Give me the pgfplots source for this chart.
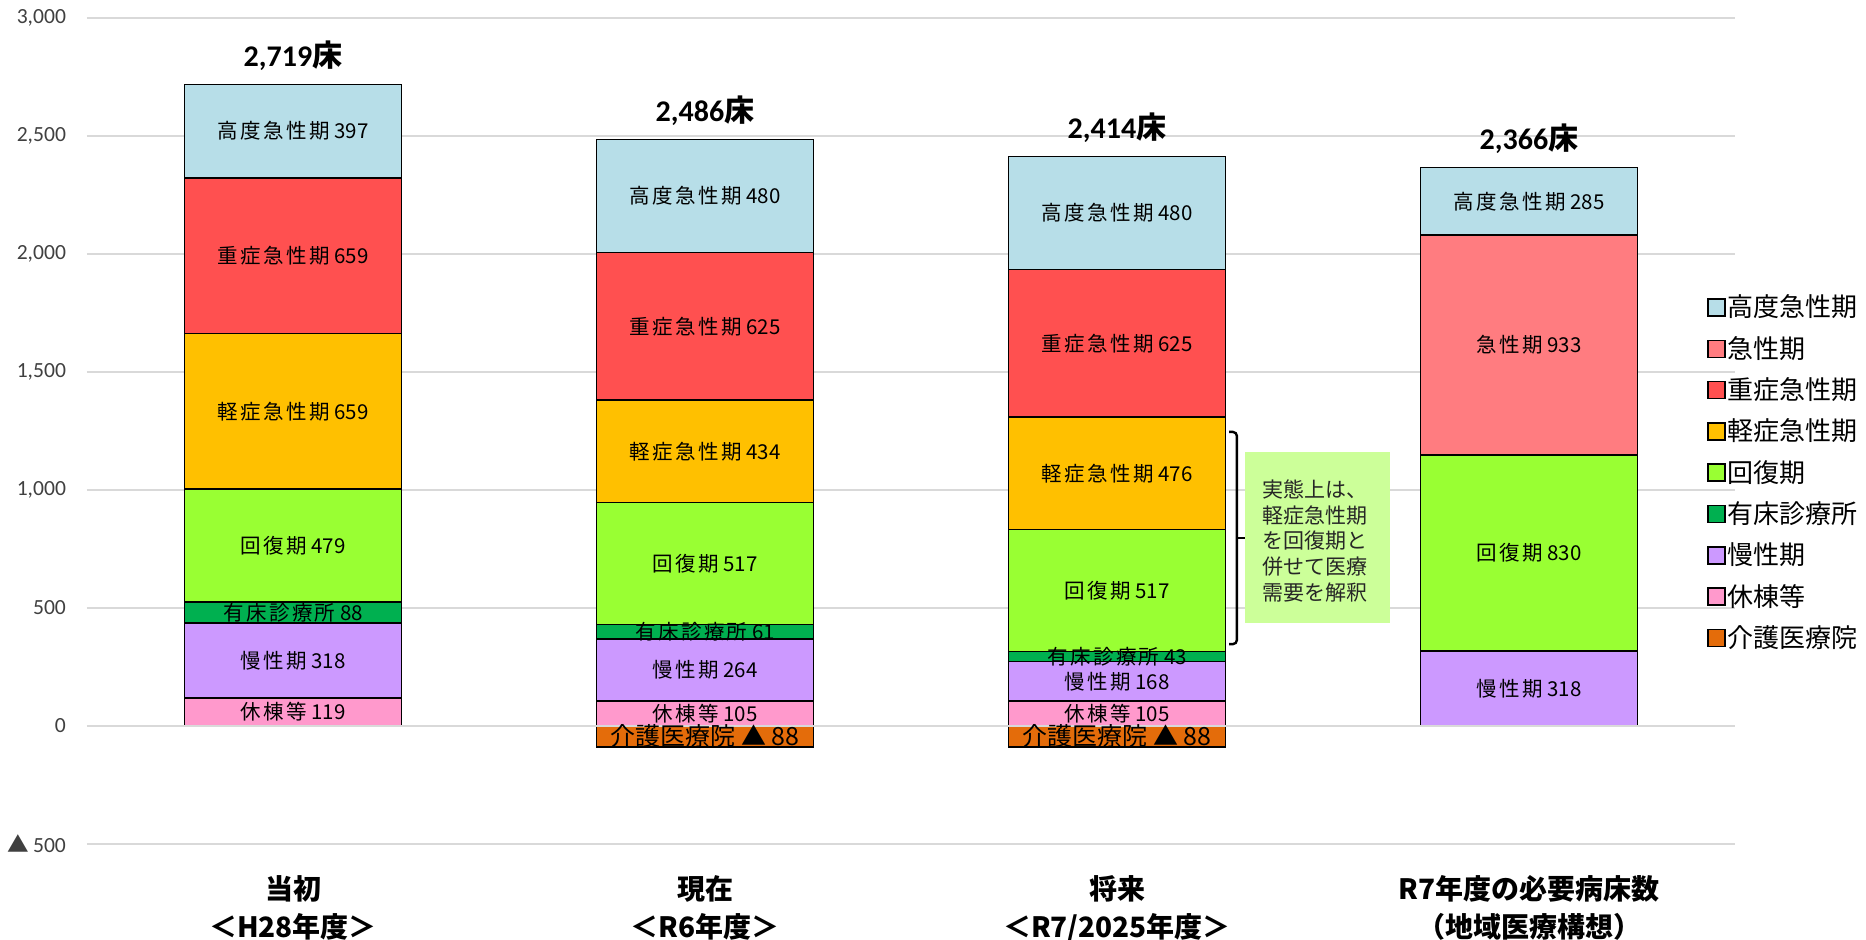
\documentclass[border=0pt]{standalone}
\usepackage{pgfplots}
\usepackage{pgfplotstable}
\pgfplotsset{compat=1.18}
\usepackage{fontspec}
\setmainfont{Carlito}
\newfontfamily\cjk{Noto Sans CJK JP}
\newfontfamily\cjksp[LetterSpace=12]{Noto Sans CJK JP}

\definecolor{cKodo}{HTML}{B7DEE8}
\definecolor{cKyusei}{HTML}{FF7C80}
\definecolor{cJusho}{HTML}{FF5050}
\definecolor{cKeisho}{HTML}{FFC000}
\definecolor{cKaifuku}{HTML}{99FF33}
\definecolor{cYusho}{HTML}{00B050}
\definecolor{cMansei}{HTML}{CC99FF}
\definecolor{cKyuto}{HTML}{FF99CC}
\definecolor{cKaigo}{HTML}{E46C0A}
\definecolor{cNote}{HTML}{CCFF99}
\definecolor{cGrid}{HTML}{D9D9D9}

% beds per category (bottom to top of the stack)
\pgfplotstableread{
x kyuto mansei yusho kaifuku keisho jusho kyusei kodo tot
0 119 318 88 479 659 659 0   397 2719
1 105 264 61 517 434 625 0   480 2486
2 105 168 43 517 476 625 0   480 2414
3 0   318 0  830 0   0   933 285 2366
}\beds

\pgfplotstableread{
x kaigo
1 -88
2 -88
}\kaigo

\pgfplotsset{
  frm/.style={width=824pt, height=413pt, scale only axis,
    at={(0,0)}, anchor=south west,
    xmin=-0.5, xmax=3.5, ymin=-500, ymax=3000, bar width=0.526},
  seg/.style n args={3}{fill=#1, draw=black, line width=0.8pt,
    visualization depends on={\thisrow{#2}\as\segv},
    nodes near coords={\ifdim\segv pt=0pt\else{\cjksp #3} \pgfmathprintnumber[assume math mode=true]{\segv}\fi}},
}

\begin{document}
\begin{tikzpicture}
\begin{axis}[
  frm, ybar stacked,
  axis line style={draw=none}, tick style={draw=none},
  ymajorgrids, grid style={cGrid, line width=1pt},
  ytick={-500,0,500,1000,1500,2000,2500,3000},
  yticklabels={{\cjk ▲}\,500, 0, 500, {1,000}, {1,500}, {2,000}, {2,500}, {3,000}},
  yticklabel style={font=\fontsize{10.8}{12}\selectfont, text=black!75, xshift=-7pt},
  xtick={0,1,2,3},
  xticklabels={{当初\\＜H28年度＞}, {現在\\＜R6年度＞}, {将来\\＜R7/2025年度＞}, {R7年度の必要病床数\\（地域医療構想）}},
  xticklabel style={font=\cjk\bfseries\fontsize{14}{19}\selectfont, align=center, anchor=north, inner sep=0pt, yshift=-15.7pt},
  legend image code/.code={\draw[#1, draw=black, line width=0.8pt] (0pt,-4.25pt) rectangle (8.5pt,4.25pt);},
  legend style={draw=none, fill=none, at={(0.983,0.675)}, anchor=north west, inner sep=0pt,
    font=\cjk\fontsize{13}{15}\selectfont, nodes={inner sep=0.5pt, minimum height=20.65pt}},
  legend cell align=left,
  reverse legend,
  every node near coord/.append style={anchor=center,
    font=\cjk\fontsize{10.25}{12}\selectfont, text=black},
]
\addlegendimage{fill=cKaigo}
\addlegendentry{介護医療院}
\addplot[seg={cKyuto}{kyuto}{休棟等}] table[x=x, y=kyuto]{\beds};
\addlegendentry{休棟等}
\addplot[seg={cMansei}{mansei}{慢性期}] table[x=x, y=mansei]{\beds};
\addlegendentry{慢性期}
\addplot[seg={cYusho}{yusho}{有床診療所}] table[x=x, y=yusho]{\beds};
\addlegendentry{有床診療所}
\addplot[seg={cKaifuku}{kaifuku}{回復期}] table[x=x, y=kaifuku]{\beds};
\addlegendentry{回復期}
\addplot[seg={cKeisho}{keisho}{軽症急性期}] table[x=x, y=keisho]{\beds};
\addlegendentry{軽症急性期}
\addplot[seg={cJusho}{jusho}{重症急性期}] table[x=x, y=jusho]{\beds};
\addlegendentry{重症急性期}
\addplot[seg={cKyusei}{kyusei}{急性期}] table[x=x, y=kyusei]{\beds};
\addlegendentry{急性期}
\addplot[seg={cKodo}{kodo}{高度急性期}] table[x=x, y=kodo]{\beds};
\addlegendentry{高度急性期}
\end{axis}

\begin{axis}[frm, hide axis, ybar, bar shift=0pt, clip=false]
\addplot[fill=cKaigo, draw=black, line width=0.8pt,
  visualization depends on={abs(\thisrow{kaigo})\as\kv},
  nodes near coords={介護医療院 ▲ \pgfmathprintnumber[assume math mode=true]{\kv}},
  every node near coord/.style={anchor=center, yshift=5.19pt,
    font=\cjk\fontsize{12.5}{14}\selectfont, text=black}]
  table[x=x, y=kaigo]{\kaigo};
% totals above each bar
\addplot[draw=none, fill=none,
  visualization depends on={\thisrow{tot}\as\tv},
  nodes near coords={\pgfmathprintnumber[assume math mode=true]{\tv}{\cjk 床}},
  every node near coord/.style={anchor=center, yshift=14.5pt,
    font=\bfseries\fontsize{15}{16}\selectfont, text=black}]
  table[x=x, y=tot]{\beds};
\draw[cGrid, line width=1pt] (axis cs:-0.5,0) -- (axis cs:3.5,0);
% bracket and note
\draw[line width=1.2pt, rounded corners=2pt] (axis cs:2.272,1246) -- (axis cs:2.291,1246)
  -- (axis cs:2.291,347) -- (axis cs:2.272,347);
\draw[line width=1.2pt] (axis cs:2.291,797) -- (axis cs:2.314,797);
\fill[cNote] (axis cs:2.311,436) rectangle (axis cs:2.663,1161);
\node[anchor=west, align=left, inner sep=0pt, text=black!85,
  font=\cjk\fontsize{10.5}{12.85}\selectfont] at (axis cs:2.352,784)
  {実態上は、\\軽症急性期\\を回復期と\\併せて医療\\需要を解釈};
\end{axis}
\pgfresetboundingbox
\path (-43.5pt,-47.5pt) rectangle (889.5pt,422pt);
\end{tikzpicture}
\end{document}
